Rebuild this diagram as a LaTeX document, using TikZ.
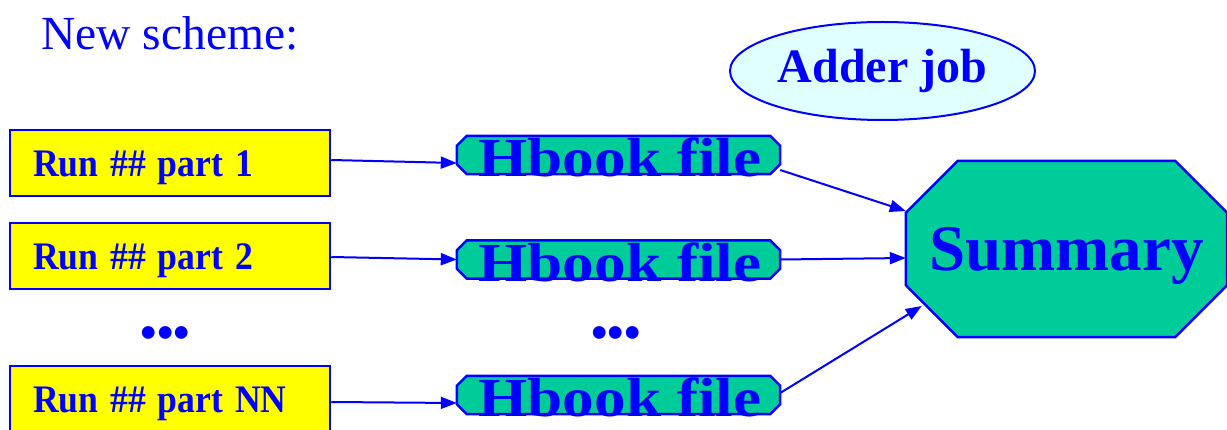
\documentclass[tikz,border=0pt]{standalone}
\usepackage{fontspec}
\setmainfont{Liberation Serif}
\usetikzlibrary{shapes.geometric,arrows.meta,backgrounds}
\definecolor{tblue}{RGB}{0,0,255}
\definecolor{tgreen}{RGB}{0,204,153}
\definecolor{tyellow}{RGB}{255,255,0}
\definecolor{tcyan}{RGB}{224,255,255}
\newcommand\chamfshape[2]{%
  \filldraw[draw=tblue, line width=2.5pt, fill=tgreen, line join=miter]
    ([xshift=#2]#1.north west) -- ([xshift=-#2]#1.north east)
    -- ([yshift=-#2]#1.north east) -- ([yshift=#2]#1.south east)
    -- ([xshift=-#2]#1.south east) -- ([xshift=#2]#1.south west)
    -- ([yshift=#2]#1.south west) -- ([yshift=-#2]#1.north west) -- cycle;}
\begin{document}
\begin{tikzpicture}[x=1pt,y=-1pt,
  runbox/.style={draw=tblue, line width=2.5pt, fill=tyellow, rectangle,
    minimum width=320pt, minimum height=66pt, inner xsep=0pt, inner ysep=0pt,
    text width=274pt, align=left, text height=28pt, text depth=0pt,
    text=tblue, font=\bfseries\fontsize{39}{40}\selectfont},
  hbook/.style={rectangle, minimum width=323pt, minimum height=38pt, inner sep=0pt},
  hbtext/.style={text=tblue, font=\bfseries\fontsize{55}{60}\selectfont,
    inner sep=0pt, anchor=base},
  dots/.style={text=tblue, font=\bfseries\fontsize{47}{50}\selectfont, inner sep=0pt},
  conn/.style={tblue, line width=2pt, -{Triangle[length=16pt,width=12pt]}}
]
\useasboundingbox (0,0) rectangle (1227,430);

\node[text=tblue, font=\fontsize{47.5}{50}\selectfont, anchor=base west, inner sep=0pt]
  (title) at (41,50) {New scheme:};

\node[draw=tblue, line width=2pt, fill=tcyan, ellipse, minimum width=305pt,
  minimum height=98pt, inner sep=0pt, text=tblue,
  font=\bfseries\fontsize{48}{50}\selectfont] (adder) at (882.5,71) {Adder job};

\node[runbox] (r1) at (170,163) {\scalebox{0.915}[1]{Run \#\# part 1}};
\node[runbox] (r2) at (170,256) {\scalebox{0.915}[1]{Run \#\# part 2}};
\node[runbox] (r3) at (170,399) {\scalebox{0.915}[1]{Run \#\# part NN}};

\node[hbook] (h1) at (618.5,155) {};
\node[hbook] (h2) at (618.5,259.5) {};
\node[hbook] (h3) at (618.5,395) {};
\node[hbtext] (h1t) at (620,177) {\scalebox{1.15}[1]{Hbook file}};
\node[hbtext] (h2t) at (620,282) {\scalebox{1.15}[1]{Hbook file}};
\node[hbtext] (h3t) at (620,417) {\scalebox{1.15}[1]{Hbook file}};

\node[dots] (d1) at (165.5,338) {•••};
\node[dots] (d2) at (616,338) {•••};

\node[rectangle, minimum width=321pt, minimum height=176pt, inner sep=0pt, text=tblue,
  text depth=0pt, font=\bfseries\fontsize{65}{70}\selectfont] (sum) at (1066.5,249) {Summary};

\begin{scope}[on background layer]
  \chamfshape{h1}{10pt}
  \chamfshape{h2}{10pt}
  \chamfshape{h3}{10pt}
  \chamfshape{sum}{52pt}
\end{scope}

\draw[conn] ([yshift=3pt]r1.east) -- ([yshift=-8pt]h1.west);
\draw[conn] ([yshift=-1pt]r2.east) -- (h2.west);
\draw[conn] ([yshift=-3pt]r3.east) -- ([yshift=-8pt]h3.west);

\draw[conn] ([yshift=-15pt]h1.east) -- ([yshift=38pt]sum.west);
\draw[conn] (h2.east) -- ([yshift=-9pt]sum.west);
\draw[conn] ([yshift=2pt]h3.east) -- ([xshift=16pt,yshift=-57pt]sum.west);
\end{tikzpicture}
\end{document}
